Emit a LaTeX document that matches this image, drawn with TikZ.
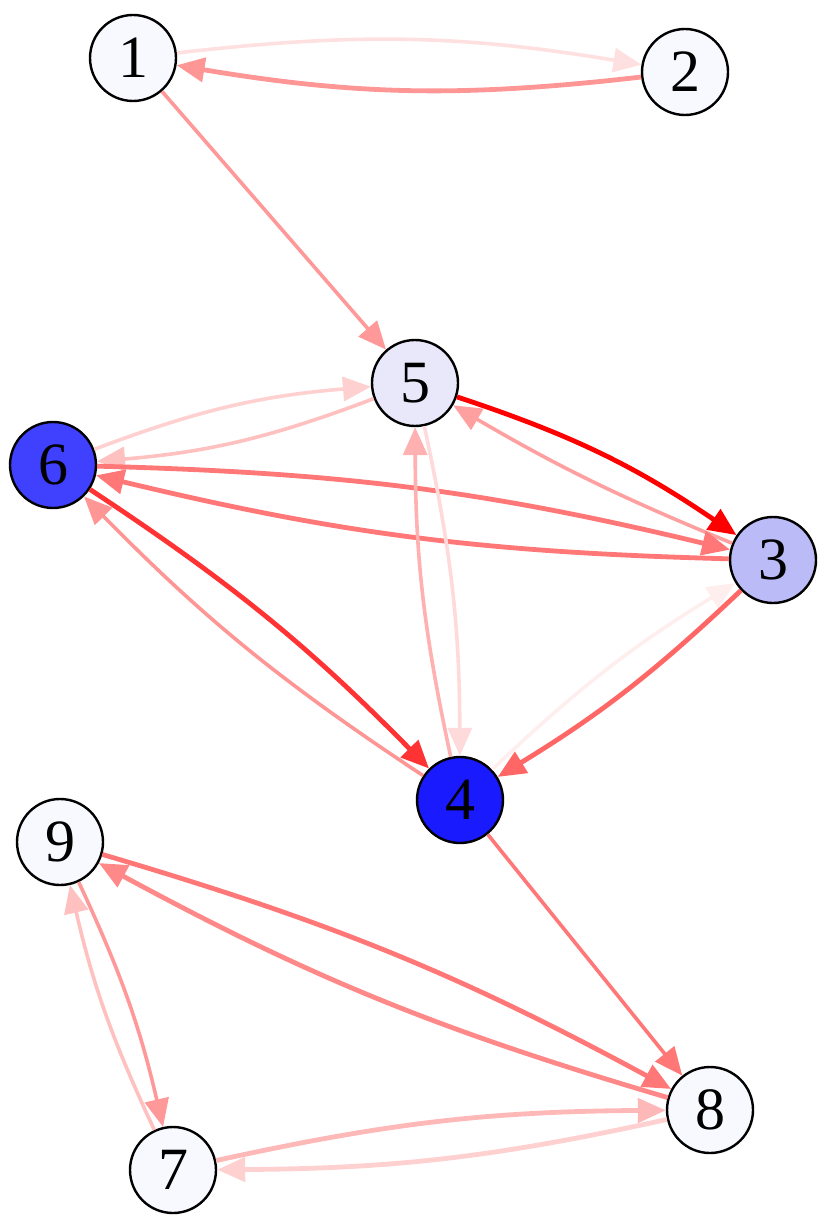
\documentclass[tikz,border=0pt]{standalone}
\usepackage{fontspec}
\setmainfont{Liberation Serif}
\usepackage{xcolor}
\definecolor{wfill}{HTML}{F8F8FF}
\definecolor{lfill}{HTML}{E8E8FA}
\definecolor{mfill}{HTML}{BBBBF8}
\definecolor{dfill}{HTML}{4040FF}
\definecolor{xfill}{HTML}{1A1AFF}
\usepackage{tikz}
\usetikzlibrary{arrows.meta}

\begin{document}
\begin{tikzpicture}[x=0.5pt,y=-0.5pt,
  vtx/.style={circle,draw=black,line width=1.2pt,minimum size=43pt,inner sep=0pt,
    font=\fontsize{30}{30}\selectfont},
  arr/.style={-{Triangle[length=14pt,width=12pt]},line width=1.8pt},
  fat/.style={arr,line width=2.4pt}]
\useasboundingbox (0,0) rectangle (830,1229);
% vertices
\node[vtx,fill=wfill] (n1) at (133,58) {1};
\node[vtx,fill=wfill] (n2) at (685,72) {2};
\node[vtx,fill=lfill] (n5) at (415,383) {5};
\node[vtx,fill=dfill] (n6) at (53,465) {6};
\node[vtx,fill=mfill] (n3) at (773,560) {3};
\node[vtx,fill=xfill] (n4) at (460,800) {4};
\node[vtx,fill=wfill] (n9) at (60,842) {9};
\node[vtx,fill=wfill] (n8) at (710,1110) {8};
\node[vtx,fill=wfill] (n7) at (173,1170) {7};
% top pair
\draw[arr,color={rgb,255:red,255;green,224;blue,224}] (n1) to[bend left=8] (n2);
\draw[fat,color={rgb,255:red,255;green,150;blue,150}] (n2) to[bend left=8] (n1);
\draw[arr,color={rgb,255:red,255;green,153;blue,153}] (n1) -- (n5);
% middle cluster
\draw[arr,color={rgb,255:red,255;green,208;blue,208}] (n6) to[bend left=8] (n5);
\draw[arr,color={rgb,255:red,255;green,192;blue,192}] (n5) to[bend left=8] (n6);
\draw[fat,color={rgb,255:red,255;green,0;blue,0}] (n5) to[bend left=8] (n3);
\draw[arr,color={rgb,255:red,255;green,160;blue,160}] (n3) to[bend left=4] (n5);
\draw[fat,color={rgb,255:red,255;green,119;blue,119}] (n6) to[bend left=6] (n3);
\draw[fat,color={rgb,255:red,255;green,119;blue,119}] (n3) to[bend left=6] (n6);
\draw[fat,color={rgb,255:red,255;green,51;blue,51}] (n6) to[bend left=6] (n4);
\draw[arr,color={rgb,255:red,255;green,150;blue,150}] (n4) to[bend left=6] (n6);
\draw[arr,color={rgb,255:red,255;green,176;blue,176}] (n4) to[bend left=6] (n5);
\draw[arr,color={rgb,255:red,255;green,218;blue,218}] (n5) to[bend left=6] (n4);
\draw[arr,color={rgb,255:red,255;green,238;blue,238}] (n4) to[bend left=6] (n3);
\draw[fat,color={rgb,255:red,255;green,102;blue,102}] (n3) to[bend left=6] (n4);
\draw[arr,color={rgb,255:red,255;green,119;blue,119}] (n4) -- (n8);
% bottom triangle
\draw[fat,color={rgb,255:red,255;green,119;blue,119}] (n9) to[bend left=6] (n8);
\draw[fat,color={rgb,255:red,255;green,136;blue,136}] (n8) to[bend left=6] (n9);
\draw[arr,color={rgb,255:red,255;green,153;blue,153}] (n9) to[bend left=6] (n7);
\draw[arr,color={rgb,255:red,255;green,192;blue,192}] (n7) to[bend left=6] (n9);
\draw[fat,color={rgb,255:red,255;green,184;blue,184}] (n7) to[bend left=6] (n8);
\draw[fat,color={rgb,255:red,255;green,208;blue,208}] (n8) to[bend left=6] (n7);
\end{tikzpicture}
\end{document}
